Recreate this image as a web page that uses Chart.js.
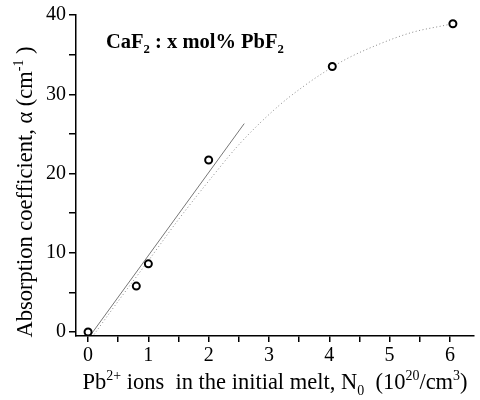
<!DOCTYPE html>
<html>
<head>
<meta charset="utf-8">
<script src="https://cdn.jsdelivr.net/npm/chart.js@4.4.1/dist/chart.umd.min.js"></script>
<style>
body{margin:0;background:#fff}
</style>
</head>
<body>
<canvas id="chart" width="480" height="400"></canvas>
<script>
// measured points
const measuredX=[0,0.8,1.0,2.0,4.05,6.05]
const measuredY=[0,5.8,8.6,21.7,33.5,38.9]

// straight fit line (ends)
const fitX=[0.05,2.59]
const fitY=[-0.3,26.3]

// dotted curve
const curveX=[0.1,0.5,1.0,1.5,2.08,2.52,3.17,3.61,3.92,4.27,4.82,5.37,5.92,6.05]
const curveY=[-0.3,3.9,9.0,14.2,19.8,23.8,28.6,31.2,32.8,34.4,36.3,37.8,38.7,38.9]

const xTicks=[0,0.5,1,1.5,2,2.5,3,3.5,4,4.5,5,5.5,6]
const yTicks=[0,5,10,15,20,25,30,35,40]

const FONT="'Liberation Serif', 'Times New Roman', serif"

function toPoints(xs,ys){
  return xs.map((x,i)=>({x:x,y:ys[i]}))
}

// text with sub / superscripts
function richWidth(ctx,segs,size,weight){
  let w=0
  segs.forEach(s=>{
    let fs=s[1]=="n"?size:size*0.62
    ctx.font=weight+" "+fs+"px "+FONT
    w+=ctx.measureText(s[0]).width
  })
  return w
}
function drawRich(ctx,x,y,segs,size,weight){
  let cx=x
  segs.forEach(s=>{
    let fs=size, dy=0
    if(s[1]=="sup"){fs=size*0.62; dy=-size*0.42}
    if(s[1]=="sub"){fs=size*0.62; dy=size*0.25}
    ctx.font=weight+" "+fs+"px "+FONT
    ctx.fillText(s[0],cx,y+dy)
    cx+=ctx.measureText(s[0]).width
  })
}

const xTitle=[["Pb","n"],["2+","sup"],[" ions  in the initial melt, N","n"],["0","sub"],["  (10","n"],["20","sup"],["/cm","n"],["3","sup"],[")","n"]]
const yTitle=[["Absorption coefficient, \u03b1 (cm","n"],["-1","sup"],[" )","n"]]
const label=[["CaF","n"],["2","sub"],[" : x mol% PbF","n"],["2","sub"]]

const textPlugin={
  id:"texts",
  afterDraw(chart){
    const ctx=chart.ctx
    ctx.save()
    ctx.fillStyle="#000"
    ctx.textBaseline="alphabetic"
    ctx.textAlign="left"
    let w=richWidth(ctx,xTitle,22.5,"normal")
    drawRich(ctx,275-w/2,389,xTitle,22.5,"normal")
    ctx.save()
    ctx.translate(32,192)
    ctx.rotate(-Math.PI/2)
    w=richWidth(ctx,yTitle,22.5,"normal")
    drawRich(ctx,-w/2,0,yTitle,22.5,"normal")
    ctx.restore()
    drawRich(ctx,106,48,label,20.5,"bold")
    ctx.restore()
  }
}

new Chart(document.getElementById("chart"),{
  type:"scatter",
  data:{
    datasets:[
      {
        data:toPoints(measuredX,measuredY),
        pointRadius:3.5,
        pointBorderWidth:2,
        pointBorderColor:"#000",
        pointBackgroundColor:"#fff",
        order:0
      },
      {
        data:toPoints(fitX,fitY),
        showLine:true,
        pointRadius:0,
        borderColor:"#777",
        borderWidth:1,
        order:1
      },
      {
        data:toPoints(curveX,curveY),
        showLine:true,
        pointRadius:0,
        borderColor:"#888",
        borderWidth:1,
        borderDash:[1,2.5],
        cubicInterpolationMode:"monotone",
        order:2
      }
    ]
  },
  options:{
    responsive:false,
    animation:false,
    layout:{padding:{top:14,right:4,bottom:24,left:0}},
    plugins:{legend:{display:false},tooltip:{enabled:false}},
    scales:{
      x:{
        type:"linear",
        min:-0.2,
        max:6.4,
        afterBuildTicks:a=>{a.ticks=xTicks.map(v=>({value:v}))},
        afterFit:s=>{s.height=40},
        ticks:{
          autoSkip:false,
          maxRotation:0,
          color:"#000",
          padding:2,
          font:{family:FONT,size:20},
          callback:v=>Number.isInteger(v)?String(v):""
        },
        grid:{drawOnChartArea:false,color:"#000",lineWidth:1.5,tickLength:6},
        border:{color:"#000",width:1.5}
      },
      y:{
        min:-0.5,
        max:40,
        afterBuildTicks:a=>{a.ticks=yTicks.map(v=>({value:v}))},
        afterFit:s=>{s.width=76},
        ticks:{
          autoSkip:false,
          color:"#000",
          padding:3,
          font:{family:FONT,size:20},
          callback:v=>v%10==0?String(v):""
        },
        grid:{drawOnChartArea:false,color:"#000",lineWidth:1.5,tickLength:7},
        border:{color:"#000",width:1.5}
      }
    }
  },
  plugins:[textPlugin]
})
</script>
</body>
</html>
